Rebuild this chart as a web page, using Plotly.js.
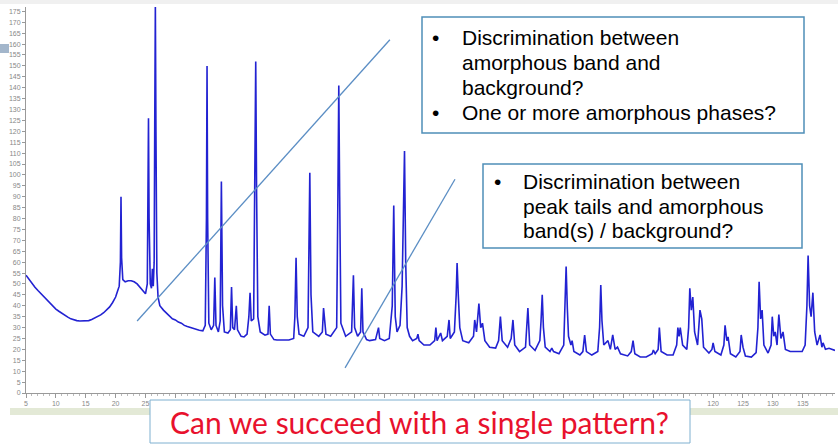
<!DOCTYPE html>
<html>
<head>
<meta charset="utf-8">
<script src="https://cdn.plot.ly/plotly-3.0.1.min.js"></script>
<style>
html,body{margin:0;padding:0;background:#fff;}
#chart{width:838px;height:444px;}
</style>
</head>
<body>
<div id="chart"></div>
<script>
// ---- Data (2-theta, counts) ----
const twoTheta = [
  5.0, 5.5, 6.0, 6.5, 7.0, 7.5, 8.0, 8.5, 9.0, 9.5,
  10.0, 10.5, 11.0, 11.5, 12.0, 12.5, 13.0, 13.5, 14.0, 14.5,
  15.0, 15.5, 16.0, 16.5, 17.0, 17.5, 18.0, 18.5, 19.0, 19.5,
  20.0, 20.3, 20.6, 20.8, 20.9, 21.0, 21.2, 21.6, 22.1, 22.6,
  23.1, 23.6, 24.1, 24.6, 25.0, 25.3, 25.4, 25.5, 25.6, 25.8,
  26.0, 26.15, 26.3, 26.45, 26.55, 26.65, 26.75, 26.9, 27.1, 27.4,
  28.0, 28.5, 29.0, 29.5, 30.0, 30.5, 31.0, 31.5, 32.0, 32.5,
  33.0, 33.5, 34.0, 34.6, 35.0, 35.2, 35.3, 35.4, 35.6, 36.0,
  36.4, 36.6, 36.8, 37.2, 37.5, 37.7, 37.9, 38.2, 38.8, 39.2,
  39.4, 39.6, 39.9, 40.2, 40.4, 41.0, 41.5, 42.0, 42.3, 42.5,
  42.7, 43.1, 43.3, 43.45, 43.6, 43.8, 44.2, 45.0, 45.5, 45.7,
  45.9, 46.5, 47.0, 48.0, 49.0, 49.8, 50.0, 50.2, 50.4, 50.7,
  51.5, 52.2, 52.5, 52.7, 53.0, 54.0, 54.6, 54.8, 55.0, 55.2,
  56.0, 57.0, 57.2, 57.35, 57.5, 57.7, 58.5, 59.5, 59.8, 60.0,
  60.5, 61.0, 61.2, 61.4, 62.0, 62.5, 63.5, 64.0, 64.2, 65.0,
  65.8, 66.3, 66.55, 66.8, 67.1, 67.6, 67.95, 68.2, 68.35, 68.55,
  68.8, 69.2, 69.7, 70.4, 70.6, 70.8, 71.6, 72.6, 73.4, 73.6,
  73.8, 74.4, 74.7, 75.5, 75.8, 76.0, 76.7, 77.0, 77.15, 77.35,
  77.6, 78.1, 79.1, 79.9, 80.1, 80.4, 80.8, 81.1, 81.4, 81.8,
  82.6, 83.6, 84.1, 84.4, 84.7, 85.6, 86.2, 86.5, 86.8, 87.6,
  88.6, 89.0, 89.3, 90.2, 91.0, 91.2, 91.4, 91.6, 91.9, 92.7,
  93.0, 93.3, 94.2, 95.0, 95.2, 95.4, 95.6, 95.8, 96.2, 96.4,
  96.7, 97.7, 98.2, 98.5, 98.8, 99.7, 100.7, 101.0, 101.2, 101.4,
  101.7, 102.4, 102.8, 103.2, 103.6, 104.0, 104.5, 105.7, 106.3, 106.6,
  106.9, 107.8, 108.8, 109.8, 110.0, 110.3, 110.8, 111.0, 111.3, 112.3,
  113.3, 113.9, 114.1, 114.3, 114.5, 114.9, 115.6, 115.9, 116.1, 116.35,
  116.6, 116.9, 117.4, 117.8, 118.1, 118.4, 119.3, 119.8, 120.0, 120.3,
  121.3, 121.8, 122.0, 122.3, 122.5, 122.9, 123.8, 124.5, 124.7, 125.0,
  125.4, 126.4, 127.2, 127.5, 127.7, 127.95, 128.2, 128.5, 129.2, 129.7,
  129.9, 130.15, 130.4, 130.7, 131.0, 131.35, 131.7, 132.1, 132.9, 133.9,
  134.9, 135.4, 135.7, 135.9, 136.15, 136.4, 136.7, 137.0, 137.4, 137.9,
  138.2, 138.4, 138.8, 139.4, 139.9, 140.4
];
const counts = [
  54, 52, 50, 48.5, 47, 45.5, 44, 42.5, 41, 39.5,
  38.5, 37.5, 36.5, 35.5, 34.8, 34, 33.5, 33.2, 33, 33,
  33, 33.2, 33.7, 34.3, 35, 35.8, 36.8, 38, 39.5, 41.5,
  44, 46.5, 49, 60, 90, 62, 52, 51, 51.5, 51.5,
  51, 50, 48.5, 47, 45.5, 50, 85, 126, 80, 50,
  48, 57, 49, 60, 125, 178, 120, 55, 44, 40,
  38, 36.5, 35, 34, 33.5, 32.5, 32, 31, 30.5, 30,
  29.5, 29, 28.8, 28.5, 31, 80, 150, 80, 32, 29,
  31, 53, 31, 28, 33, 97, 40, 28, 27.5, 29,
  48.6, 30, 29, 40, 29, 26, 25.7, 27, 35, 46,
  33, 34, 90, 152, 90, 35, 28, 26.5, 27, 40,
  27, 24.5, 24.3, 24.3, 24.3, 25, 35, 62, 35, 27,
  26, 30, 101, 45, 28, 26, 28, 39, 34, 27,
  26, 30, 90, 141, 90, 32, 26, 28, 54, 30,
  26, 28, 48, 28, 24.5, 24, 24.5, 30, 25, 24,
  25, 40, 86, 35, 28, 31, 49, 90, 111, 60,
  30, 26, 24, 25, 27, 24, 22, 22, 24, 30,
  24, 27.5, 24, 26, 33.5, 25, 28, 45, 59.6, 45,
  30, 24, 23, 26, 33.5, 28, 41, 30, 32, 24,
  21, 20.6, 24, 35, 24, 21, 25, 33.5, 22, 19,
  21, 39, 22, 19.5, 24, 33, 45, 30, 21, 19,
  20.6, 19, 18, 22, 40, 58, 39, 26, 22, 24,
  19, 17.4, 19, 26.6, 19, 17.4, 19, 30, 49.5, 33,
  22, 24, 20, 26.6, 20, 21, 18, 17, 19, 24,
  18, 16.5, 16.5, 18, 19.7, 18, 20, 30, 19, 17.4,
  17.4, 22, 30, 26, 30, 22, 20, 30, 48, 38,
  44, 28, 22, 38, 34, 21, 18.3, 20, 23, 19,
  17.4, 22, 31, 24, 25.7, 18, 16.5, 19, 26.6, 21,
  17, 16.5, 18.5, 30, 51, 34, 38, 22, 18.3, 22,
  35, 26, 28, 22, 36, 25, 28, 20, 19, 19,
  19, 22, 40, 63, 40, 35, 46, 28, 22, 26.6,
  21, 23, 20, 20.5, 20, 19.5
];
// x tick positions; labels 30..115 sit under the caption box in the reference
const xTickVals = [5,10,15,20,25,30,35,40,45,50,55,60,65,70,75,80,85,90,95,100,105,110,115,120,125,130,135];
const xTickText = ['5','10','15','20','25','','','','','','','','','','','','','','','','','','','120','125','130','135'];

// Annotation guide lines (data units): [x0, y0, x1, y1]
const guideLine1 = [23.6, 33, 65.9, 162];
const guideLine2 = [58.4, 11.5, 76.8, 98];

const box1Lines = ["Discrimination between", "amorphous band and", "background?", "One or more amorphous phases?"];
const box1Bullets = [0, 3];
const box2Lines = ["Discrimination between", "peak tails and amorphous", "band(s) / background?"];
const box2Bullets = [0];
const footerText = "Can we succeed with a single pattern?";

// ---- Layout helpers (pixel -> paper) ----
const W = 838, H = 444, ML = 26, MR = 3, MT = 7, MB = 51;
const PW = W - ML - MR, PH = H - MT - MB;
const px = p => (p - ML) / PW;
const py = p => (H - MB - p) / PH;

const shapes = [
  {type:'rect', xref:'paper', yref:'paper', x0:px(0), x1:px(838), y0:py(0), y1:py(4), fillcolor:'#f0f0f0', line:{width:0}, layer:'below'},
  {type:'rect', xref:'paper', yref:'paper', x0:px(0), x1:px(9), y0:py(53), y1:py(44), fillcolor:'#a3b6cb', line:{width:0}},
  {type:'rect', xref:'paper', yref:'paper', x0:px(10), x1:px(838), y0:py(415), y1:py(408), fillcolor:'#e3e9d6', line:{width:0}},
  {type:'line', xref:'x', yref:'y', x0:guideLine1[0], y0:guideLine1[1], x1:guideLine1[2], y1:guideLine1[3], line:{color:'#5b8ec4', width:1.3}},
  {type:'line', xref:'x', yref:'y', x0:guideLine2[0], y0:guideLine2[1], x1:guideLine2[2], y1:guideLine2[3], line:{color:'#5b8ec4', width:1.3}},
  {type:'rect', xref:'paper', yref:'paper', x0:px(422), x1:px(804), y0:py(133), y1:py(17), fillcolor:'#ffffff', line:{color:'#4f8fb8', width:1.5}},
  {type:'rect', xref:'paper', yref:'paper', x0:px(483), x1:px(802), y0:py(248), y1:py(164), fillcolor:'#ffffff', line:{color:'#4f8fb8', width:1.5}},
  {type:'rect', xref:'paper', yref:'paper', x0:px(150), x1:px(690), y0:py(443), y1:py(400), fillcolor:'#ffffff', line:{color:'#7fb0d0', width:1}}
];

const annotations = [];
const txtFont = {family:'Liberation Sans, Arial, sans-serif', size:21, color:'#000'};
const box1Centers = [38, 63, 88, 113];
box1Lines.forEach((t, i) => {
  annotations.push({xref:'paper', yref:'paper', x:px(460), y:py(box1Centers[i]), xanchor:'left', yanchor:'middle', text:t, showarrow:false, font:txtFont});
});
box1Bullets.forEach(i => {
  annotations.push({xref:'paper', yref:'paper', x:px(435), y:py(box1Centers[i]), xanchor:'center', yanchor:'middle', text:'•', showarrow:false, font:txtFont});
});
const box2Centers = [182, 206, 230];
box2Lines.forEach((t, i) => {
  annotations.push({xref:'paper', yref:'paper', x:px(521), y:py(box2Centers[i]), xanchor:'left', yanchor:'middle', text:t, showarrow:false, font:txtFont});
});
box2Bullets.forEach(i => {
  annotations.push({xref:'paper', yref:'paper', x:px(497), y:py(box2Centers[i]), xanchor:'center', yanchor:'middle', text:'•', showarrow:false, font:txtFont});
});
annotations.push({xref:'paper', yref:'paper', x:px(419), y:py(422), xanchor:'center', yanchor:'middle', text:footerText, showarrow:false,
  font:{family:'Lato, Liberation Sans, sans-serif', size:30, color:'#e8112d'}});

const trace = {
  x: twoTheta, y: counts, type:'scatter', mode:'lines',
  line:{color:'#2222d2', width:1.6}, hoverinfo:'skip'
};

const layout = {
  width: W, height: H,
  margin:{l:ML, r:MR, t:MT, b:MB, pad:0},
  paper_bgcolor:'#ffffff', plot_bgcolor:'#ffffff',
  showlegend:false,
  xaxis:{range:[5, 140.4], tickmode:'array', tickvals:xTickVals, ticktext:xTickText, ticks:'outside', ticklen:4, tickcolor:'#999', tickwidth:1,
    tickfont:{size:7, color:'#888', family:'Liberation Sans, Arial'}, showline:true, linecolor:'#999', linewidth:1,
    showgrid:false, zeroline:false, minor:{dtick:1, tick0:5, ticks:'outside', ticklen:2, tickcolor:'#bbb'}},
  yaxis:{range:[0, 177], tick0:0, dtick:5, ticks:'outside', ticklen:3, tickcolor:'#999',
    tickfont:{size:7, color:'#888', family:'Liberation Sans, Arial'}, showline:true, linecolor:'#999', linewidth:1,
    showgrid:false, zeroline:false},
  shapes: shapes,
  annotations: annotations
};

Plotly.newPlot('chart', [trace], layout, {staticPlot:true, displayModeBar:false});
</script>
</body>
</html>
